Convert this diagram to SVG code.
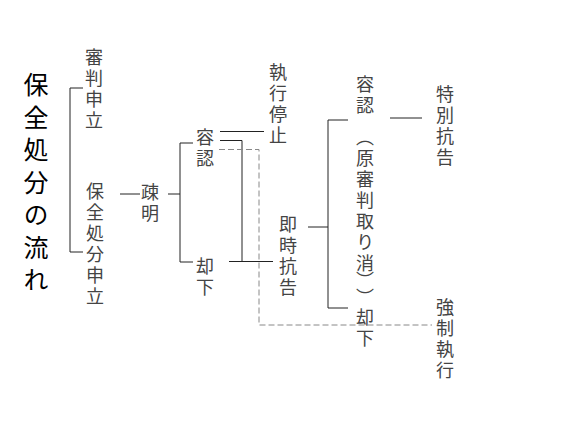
<svg xmlns="http://www.w3.org/2000/svg" width="567" height="425" viewBox="0 0 567 425">
<style>
.t{font-family:"Noto Sans CJK JP","Noto Sans CJK SC",sans-serif;font-size:18px;fill:#444;writing-mode:vertical-rl;letter-spacing:3px}
.title{font-family:"Noto Sans CJK JP","Noto Sans CJK SC",sans-serif;font-size:25px;fill:#000;writing-mode:vertical-rl;letter-spacing:7.5px}
.ln{stroke:#222;stroke-width:1;fill:none}
.dl{stroke:#888;stroke-width:1;fill:none;stroke-dasharray:6 3}
</style>
<rect width="567" height="425" fill="#fff"/>
<g id="title"><text class="title" x="36" y="72">保全処分の流れ</text></g>
<g id="n-shinpan"><text class="t" x="94" y="48">審判申立</text></g>
<g id="n-hozen"><text class="t" x="95" y="182">保全処分申立</text></g>
<g id="n-somei"><text class="t" x="150" y="183">疎明</text></g>
<g id="n-younin1"><text class="t" x="205" y="128">容認</text></g>
<g id="n-kyakka1"><text class="t" x="205" y="257">却下</text></g>
<g id="n-shikkoteishi"><text class="t" x="278" y="63">執行停止</text></g>
<g id="n-sokuji"><text class="t" x="288" y="215">即時抗告</text></g>
<g id="n-younin2"><text class="t" x="365" y="75">容認</text><text class="t" x="365" y="128">（原審判取り消</text><text class="t" x="365" y="271">）</text><text class="t" x="365" y="288">）</text></g>
<g id="n-kyakka2"><text class="t" x="365" y="308">却下</text></g>
<g id="n-tokubetsu"><text class="t" x="445" y="85">特別抗告</text></g>
<g id="n-kyousei"><text class="t" x="445" y="298">強制執行</text></g>
<g id="connectors">
<path class="ln" d="M83 88H70V252H83"/>
<path class="ln" d="M120 194H140"/>
<path class="ln" d="M168 194H180"/>
<path class="ln" d="M193 143H180V262H193"/>
<path class="ln" d="M220 131.5H264"/>
<path class="ln" d="M220 140.5H242V261"/>
<path class="ln" d="M229 261.5H273"/>
<path class="ln" d="M308 227H328"/>
<path class="ln" d="M348 120H328V308H348"/>
<path class="ln" d="M390 118H422"/>
<path class="dl" d="M219 149.5H259V325H432"/>
</g>
</svg>
